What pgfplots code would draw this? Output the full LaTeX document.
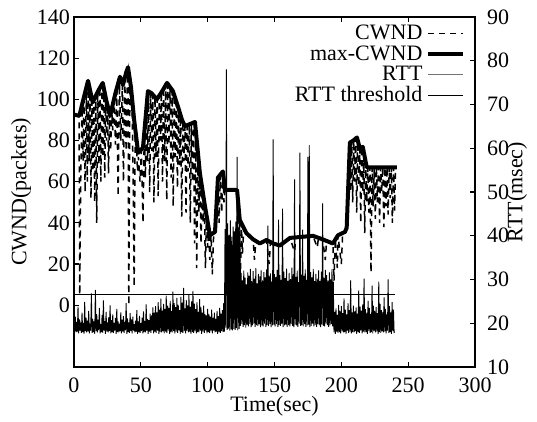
\documentclass[border=0pt]{standalone}
\usepackage{fontspec}
\setmainfont{Liberation Serif}
\usepackage{pgfplots}
\pgfplotsset{compat=1.18}
\usetikzlibrary{calc}

\newcommand{\fs}{\fontsize{11}{12}\selectfont}
\pgfplotsset{
  base/.style={scale only axis, width=200.5pt, height=175pt,
    xmin=0, xmax=300,
    /pgf/number format/assume math mode=true,
    tick align=inside, major tick length=2.5pt,
    every tick label/.append style={font=\fs},
    label style={font=\fs},
    axis line style={line width=0.6pt},
    every tick/.style={black, line width=0.6pt},
  },
}

\begin{document}
\begin{tikzpicture}
% RTT on the right axis, drawn first so the window curves sit on top
\begin{axis}[base, name=rtt,
  ymin=10, ymax=90, ytick={10,20,...,90},
  axis y line*=right, axis x line=none,
  ylabel={RTT(msec)},
  ylabel style={at={(axis description cs:1.105,0.5)}, anchor=center},
  yticklabel style={xshift=2.5pt},
]
\addplot[gray, line width=1pt, forget plot] coordinates {(0,10) (0,90)};
\addplot[black, line width=0.45pt] table[row sep=\\, header=false, x expr=\coordindex*0.5+0.5, y index=0] {
18.2\\21.5\\17.9\\20.3\\18.1\\23.8\\17.7\\20.9\\18.3\\19.6\\17.8\\22.4\\18.0\\20.1\\17.6\\24.9\\18.2\\21.3\\17.9\\20.6\\
18.1\\22.8\\17.7\\19.9\\18.3\\26.8\\17.8\\21.0\\18.0\\20.4\\17.6\\27.6\\18.2\\22.1\\17.9\\20.8\\18.4\\23.5\\17.7\\19.8\\
18.0\\21.9\\17.8\\25.2\\18.3\\20.5\\17.6\\22.6\\18.1\\20.2\\17.9\\21.4\\18.2\\24.1\\17.7\\20.7\\18.0\\22.0\\17.8\\20.1\\
18.3\\21.2\\17.6\\23.3\\18.0\\20.4\\17.9\\19.9\\18.2\\22.5\\17.7\\20.8\\18.1\\21.6\\17.8\\20.3\\18.4\\24.6\\17.6\\21.1\\
18.0\\20.2\\17.8\\22.3\\18.2\\20.9\\17.7\\21.5\\18.3\\19.8\\17.9\\20.6\\18.1\\23.0\\17.6\\20.4\\18.0\\21.7\\17.8\\20.0\\
18.2\\21.3\\17.7\\22.7\\18.0\\20.5\\17.9\\24.3\\18.3\\21.0\\17.6\\20.7\\18.1\\22.2\\17.8\\21.8\\18.4\\23.6\\17.7\\22.4\\
18.1\\23.9\\17.8\\22.5\\18.3\\24.8\\17.6\\23.1\\18.0\\25.6\\17.9\\22.9\\18.2\\24.4\\17.7\\23.3\\18.1\\26.3\\17.8\\24.0\\
18.3\\23.5\\17.6\\25.1\\18.0\\22.8\\17.9\\27.2\\18.2\\24.6\\17.7\\23.7\\18.1\\25.8\\17.8\\24.2\\18.4\\23.0\\17.6\\26.0\\
18.0\\24.7\\17.8\\28.1\\18.2\\23.4\\17.7\\25.3\\18.3\\24.1\\17.9\\26.6\\18.1\\23.8\\17.6\\25.0\\18.0\\27.4\\17.8\\24.5\\
18.2\\23.2\\17.7\\24.8\\18.0\\22.6\\17.9\\25.5\\18.3\\23.6\\17.6\\22.4\\18.1\\24.0\\17.8\\22.1\\18.4\\21.8\\17.7\\23.3\\
18.0\\22.0\\17.8\\21.5\\18.2\\23.1\\17.7\\21.2\\18.3\\22.4\\17.9\\21.0\\18.1\\22.8\\17.6\\21.6\\18.0\\23.5\\17.8\\22.2\\
18.2\\23.0\\18.0\\24.6\\18.1\\41.5\\19.0\\78.0\\18.5\\42.8\\18.8\\40.2\\18.3\\43.5\\18.6\\39.8\\18.4\\42.1\\18.7\\41.0\\
18.5\\43.2\\18.9\\58.0\\18.4\\40.6\\18.7\\42.9\\19.4\\31.5\\19.8\\29.8\\19.2\\32.0\\19.6\\30.4\\19.0\\28.9\\19.7\\31.6\\
19.3\\30.8\\19.8\\32.4\\19.1\\29.6\\19.5\\31.9\\19.9\\30.2\\19.2\\32.6\\19.6\\29.1\\19.4\\31.3\\19.8\\30.7\\19.1\\32.1\\
19.5\\29.8\\19.3\\31.7\\19.9\\30.5\\19.2\\32.3\\19.6\\42.3\\19.4\\30.9\\19.8\\31.4\\19.1\\29.5\\19.5\\62.0\\19.7\\31.2\\
19.3\\30.6\\19.8\\32.2\\19.2\\43.7\\19.6\\31.0\\19.4\\29.9\\19.9\\46.2\\19.1\\31.8\\19.5\\30.3\\19.7\\32.5\\19.2\\29.7\\
19.6\\31.5\\19.3\\30.1\\19.8\\32.7\\19.4\\31.2\\19.1\\52.9\\19.7\\30.6\\19.5\\32.0\\19.2\\29.4\\19.9\\59.0\\19.4\\31.1\\
19.6\\41.4\\19.3\\30.8\\19.8\\32.3\\19.2\\29.9\\19.5\\58.0\\19.7\\60.7\\19.1\\31.7\\19.4\\30.5\\19.9\\32.4\\19.3\\29.6\\
19.6\\31.3\\19.2\\30.2\\19.8\\32.1\\19.5\\29.7\\19.1\\31.8\\19.7\\47.4\\19.4\\30.4\\19.3\\32.2\\19.9\\31.0\\19.6\\29.8\\
19.2\\31.6\\19.5\\30.0\\19.8\\32.4\\19.3\\29.5\\17.9\\22.6\\17.6\\23.4\\18.1\\21.9\\17.8\\24.2\\18.0\\22.8\\17.7\\23.9\\
18.2\\22.3\\17.9\\25.7\\18.0\\23.1\\17.6\\22.0\\18.3\\24.6\\17.8\\23.0\\18.1\\29.8\\17.7\\22.5\\18.0\\24.0\\17.9\\22.7\\
18.2\\23.6\\17.6\\22.2\\18.0\\27.5\\17.8\\23.8\\18.3\\22.9\\17.7\\24.3\\18.1\\30.2\\17.9\\23.2\\18.0\\22.4\\17.6\\25.1\\
18.2\\23.5\\17.8\\22.1\\18.0\\28.6\\17.7\\24.0\\18.3\\22.8\\17.9\\23.7\\18.1\\22.3\\17.6\\29.5\\18.0\\24.4\\17.8\\23.0\\
18.2\\22.6\\17.9\\25.9\\18.1\\23.3\\17.7\\22.0\\18.3\\30.0\\17.8\\23.9\\18.0\\22.5\\17.6\\24.8\\18.2\\23.1\\17.9\\18.0\\
};
% threshold
\addplot[black, line width=0.7pt] coordinates {(0,26.6) (240,26.6)};
\end{axis}

% CWND on the left axis
\begin{axis}[base, name=cw,
  ymin=-30, ymax=140, ytick={0,20,...,140},
  ytick pos=left, yticklabel pos=left,
  xtick={0,50,...,300}, xtick pos=both, xticklabel pos=lower,
  xlabel={Time(sec)}, ylabel={CWND(packets)},
  xlabel style={at={(axis description cs:0.5,-0.128)}, anchor=base},
  ylabel style={at={(axis description cs:-0.132,0.5)}, anchor=center},
  yticklabel style={xshift=1.5pt},
  xticklabel style={yshift=-2pt},
  legend plot pos=right, legend cell align=right,
  legend style={draw=none, fill=none, font=\fs, at={(0.99,0.99)}, anchor=north east,
    row sep=1.5pt, nodes={inner xsep=2pt, inner ysep=0pt}},
]
\addplot[black, line width=0.75pt, dash pattern=on 3pt off 2.5pt] coordinates {
(0.5,92) (3.8,92) (4.3,5) (5.0,60) (6.0,96) (6.8,70) (7.5,100) (8.3,55) (9.2,105) (10.0,60)
(10.6,108) (11.3,70) (12.0,104) (12.7,52) (13.4,99) (14.1,65) (14.8,100) (15.5,50) (16.3,102) (17.0,40)
(17.8,104) (18.6,68) (19.4,106) (20.1,60) (20.9,107) (21.6,72) (22.3,106) (23.0,62) (23.7,100) (24.4,80)
(25.1,98) (25.8,64) (26.6,93) (27.4,75) (28.2,95) (29.0,85) (30.0,100) (31.0,78) (32.0,104) (33.0,53)
(34.0,110) (35.0,80) (36.2,107) (37.0,60) (38.0,110) (39.0,75) (40.0,114) (40.4,115) (41.0,0) (41.8,106)
(42.5,100) (43.5,95) (44.3,60) (45.0,9) (45.8,88) (46.6,80) (47.5,65) (48.2,72) (49.4,60) (50.4,75)
(51.6,40) (52.6,85) (53.4,62) (54.2,98) (55.0,70) (55.8,104) (56.6,55) (57.4,103) (58.2,75) (59.0,102)
(59.8,50) (60.6,101) (61.4,72) (62.2,100) (63.0,53) (63.8,102) (64.6,80) (65.4,104) (66.2,60) (67.0,106)
(67.8,70) (68.6,107) (69.4,51) (70.2,107) (71.0,78) (71.8,106) (72.6,62) (73.4,104) (74.2,48) (75.0,102)
(75.8,72) (76.6,98) (77.4,57) (78.2,96) (79.0,68) (79.8,92) (80.6,43) (81.4,89) (82.2,70) (83.0,87)
(83.8,45) (84.6,87) (85.4,65) (86.2,88) (87.0,40) (87.8,88) (88.6,60) (89.4,89) (90.2,30) (91.0,80)
(91.8,18) (92.6,68) (93.4,45) (94.2,64) (95.0,30) (95.8,56) (96.6,40) (97.5,50) (98.3,18) (99.1,44)
(100.0,28) (100.8,38) (101.6,22) (102.5,34) (103.5,15) (104.5,35) (105.5,35) (106.5,50) (107.7,62) (108.5,40)
(109.5,63) (110.5,45) (111.4,65) (112.2,50) (113.0,56) (122.0,56) (122.8,20) (123.6,45) (124.4,10) (125.2,40)
(126.0,25) (127.0,37) (130,35) (134,32) (135,22) (136,31) (139,30) (144,31.7) (146,20) (147,31)
(149,30) (154,29) (158,31) (161.6,32.7) (165,26) (166,33) (170,33.5) (178.8,33.7) (182,28) (183,33.5)
(186,32) (188,22) (189,31.5) (193.7,30) (194.5,12) (195.5,32) (197,18) (197.5,34) (200,20) (201,35)
(202.7,35.6) (204,37.6) (206.4,79) (207.0,55) (207.8,80) (208.5,50) (209.3,80) (210.0,60) (210.8,81) (211.5,45)
(212.2,80) (213.0,58) (213.8,76) (214.5,40) (215.3,77) (216.0,55) (216.8,72) (217.5,35) (218.2,69) (219.0,50)
(219.8,67) (220.6,45) (221.4,67) (222.2,16) (223.0,67) (223.8,48) (224.6,67) (225.4,42) (226.2,67) (227.0,50)
(227.8,67) (228.6,40) (229.4,67) (230.2,55) (231.0,67) (231.8,38) (232.6,67) (233.4,48) (234.2,67) (235.0,44)
(235.8,67) (236.6,52) (237.4,67) (238.2,40) (239.0,67) (239.8,46) (240.6,67)
};
\addlegendentry{CWND}
\addplot[black, line width=2pt, line join=round] coordinates {
(0.5,92.5) (4,92) (7,100) (10.5,109) (14,98.5) (18,104) (21.5,108) (24,100) (27,92) (31,103)
(34.4,111) (36.6,107) (39,113) (40.4,115.6) (42.6,106) (45,90) (48,74) (51.6,76.6) (55.3,104) (58,103)
(62,100) (66,104) (69.6,108) (74,104) (78,96) (80.8,90) (83,87) (90.5,89) (94.2,64) (98,48)
(101.7,34) (105.5,35.6) (107.7,62) (111.4,65) (113,56) (122,56) (124,41.5) (129,35) (134,32) (139,30)
(144,31.7) (149,30) (154,29) (161.6,32.7) (178.8,33.7) (186,32) (193.7,30) (197.5,34) (202.7,35.6) (204,37.6)
(206.4,79) (209,80) (211.7,81.5) (214,75.6) (216,77) (219,67) (241.6,67)
};
\addlegendentry{max-CWND}
\addlegendimage{black!55, line width=0.45pt}
\addlegendentry{RTT}
\addlegendimage{black, line width=0.7pt}
\addlegendentry{RTT threshold}
\end{axis}
\pgfresetboundingbox
\path ($(cw.south west)+(-37pt,-27pt)$) rectangle ($(cw.north east)+(31pt,8.5pt)$);
\end{tikzpicture}
\end{document}
